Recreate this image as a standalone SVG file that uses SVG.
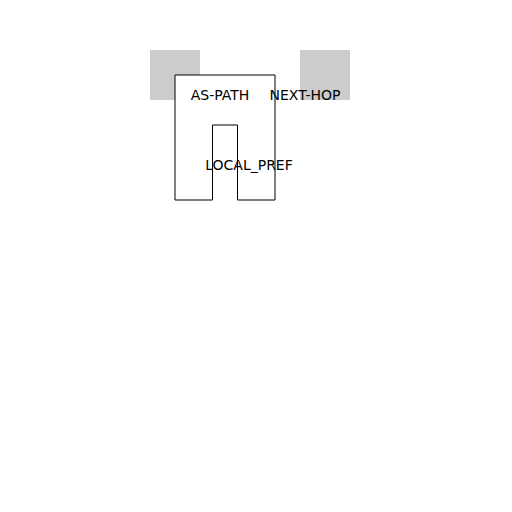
<svg xmlns="http://www.w3.org/2000/svg" width="512" height="512" viewBox="0 0 512 512">
<style>
.sq{fill:#cccccc;stroke:none}
.shape{fill:#ffffff;stroke:#000000;stroke-width:1}
.lbl{font-family:"DejaVu Sans",sans-serif;font-size:14px;fill:#000000;text-anchor:middle}
</style>
<rect width="512" height="512" fill="#ffffff"/>
<g id="square-left"><rect class="sq" x="150" y="50" width="50" height="50"/></g>
<g id="square-right"><rect class="sq" x="300" y="50" width="50" height="50"/></g>
<g id="shape"><polygon class="shape" points="175,75 275,75 275,200 237.5,200 237.5,125 212.5,125 212.5,200 175,200"/></g>
<g id="labels">
<text class="lbl" x="220" y="100">AS-PATH</text>
<text class="lbl" x="305" y="100">NEXT-HOP</text>
<text class="lbl" x="249" y="170">LOCAL_PREF</text>
</g>
</svg>
